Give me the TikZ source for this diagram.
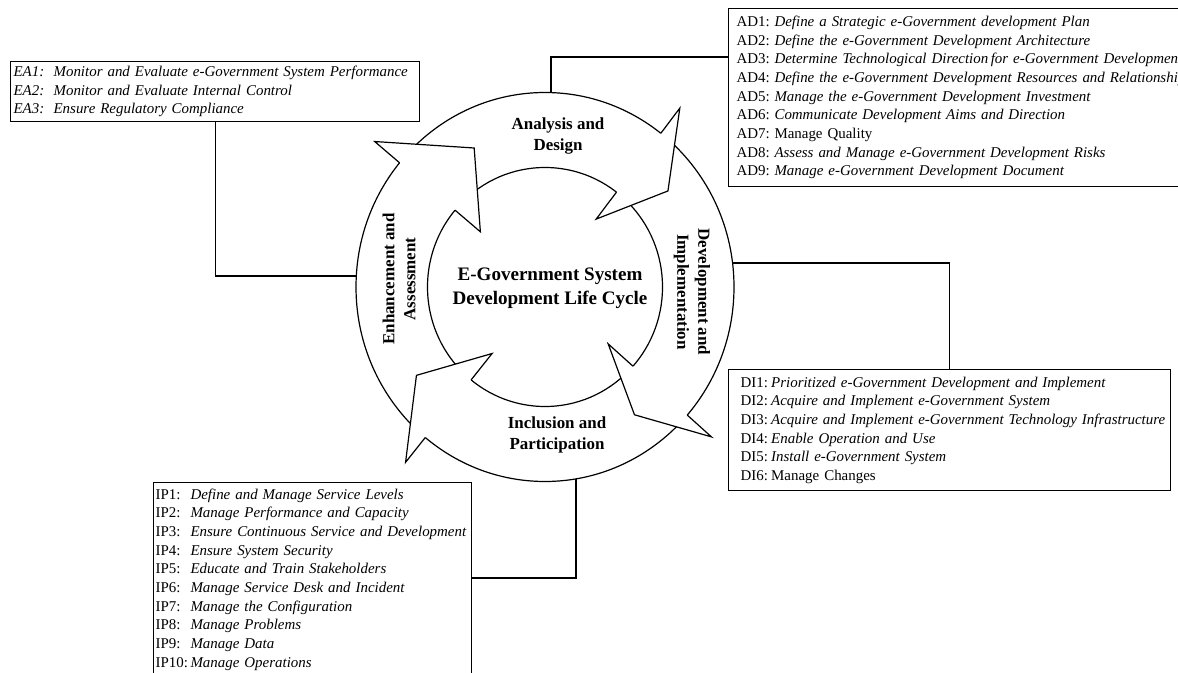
\documentclass[tikz,border=0pt]{standalone}
\usepackage{fontspec}
\setmainfont{Liberation Serif}

\tikzset{
  listbox/.style={draw, anchor=north west, align=left, inner ysep=0pt,
    font=\fontsize{11.2}{14}\selectfont},
  phase/.style={align=center, font=\bfseries\fontsize{12.7}{15.75}\selectfont},
  core/.style={align=center, font=\bfseries\fontsize{14.3}{18}\selectfont},
}
% one line of a list box: label of fixed width, then the text
\newcommand{\lst}[3]{\mbox{\makebox[#1][l]{#2}#3}}
% arrow head of one phase: base angle, tip angle (screen angles)
\newcommand{\phasehead}[2]{%
  \pgfmathsetmacro\ro{10*18.9*19.45/sqrt((19.45*cos(#1))^2+(18.9*sin(#1))^2)}%
  \pgfmathsetmacro\ri{10*11.75*11.95/sqrt((11.95*cos(#1))^2+(11.75*sin(#1))^2)}%
  \fill[white] ([shift={(#1:224)}]c) -- ([shift={(#2:156)}]c) -- ([shift={(#1:85)}]c) -- cycle;
  \draw ([shift={(#1:\ro)}]c) -- ([shift={(#1:224)}]c) -- ([shift={(#2:156)}]c)
    -- ([shift={(#1:85)}]c) -- ([shift={(#1:\ri)}]c);}

\begin{document}
\begin{tikzpicture}[x=0.75pt, y=-0.75pt, line width=0.9pt, line join=miter]
\useasboundingbox (0,0) rectangle (1178,673);
\clip (0,0) rectangle (1178,673);

% the ring
\coordinate (c) at (545,287);
\draw (c) ellipse (189 and 194.5);
\draw (c) ellipse (117.5 and 119.5);
\phasehead{-139.5}{-117}
\phasehead{-53}{-38}
\phasehead{42}{55}
\phasehead{128.5}{145.5}

\node[core] (core) at (550,288) {E-Government System\\Development Life Cycle};
\node[phase] (ad-label) at (558,136) {Analysis and\\Design};
\node[phase, rotate=-90] (di-label) at (692,292) {Development and\\Implementation};
\node[phase] (ip-label) at (557,435) {Inclusion and\\Participation};
\node[phase, rotate=90] (ea-label) at (399,279) {Enhancement and\\Assessment};

% list boxes
\node[listbox, inner xsep=2.25pt, text width=302.25pt, minimum height=45pt] (ea) at (10,61) {%
  \lst{2.68em}{\textit{EA1:}}{\textit{Monitor and Evaluate e-Government System Performance}}\\
  \lst{2.68em}{\textit{EA2:}}{\textit{Monitor and Evaluate Internal Control}}\\
  \lst{2.68em}{\textit{EA3:}}{\textit{Ensure Regulatory Compliance}}};

\node[listbox, inner xsep=6pt, text width=349.5pt, minimum height=133.5pt] (ad) at (728,8) {%
  \lst{2.54em}{AD1:}{\textit{Define a Strategic e-Government development Plan}}\\
  \lst{2.54em}{AD2:}{\textit{Define the e-Government Development Architecture}}\\
  \lst{2.54em}{AD3:}{\textit{Determine Technological Direction\,for e-Government Development}}\\
  \lst{2.54em}{AD4:}{\textit{Define the e-Government Development Resources and Relationship}}\\
  \lst{2.54em}{AD5:}{\textit{Manage the e-Government Development Investment}}\\
  \lst{2.54em}{AD6:}{\textit{Communicate Development Aims and Direction}}\\
  \lst{2.54em}{AD7:}{Manage Quality}\\
  \lst{2.54em}{AD8:}{\textit{Assess and Manage e-Government Development Risks}}\\
  \lst{2.54em}{AD9:}{\textit{Manage e-Government Development Document}}};

\node[listbox, inner xsep=9pt, text width=313.5pt, minimum height=90.75pt] (di) at (728,369) {%
  \lst{2.05em}{DI1:}{\textit{Prioritized e-Government Development and Implement}}\\
  \lst{2.05em}{DI2:}{\textit{Acquire and Implement e-Government System}}\\
  \lst{2.05em}{DI3:}{\textit{Acquire and Implement e-Government Technology Infrastructure}}\\
  \lst{2.05em}{DI4:}{\textit{Enable Operation and Use}}\\
  \lst{2.05em}{DI5:}{\textit{Install e-Government System}}\\
  \lst{2.05em}{DI6:}{Manage Changes}};

\node[listbox, inner xsep=1.5pt, text width=235.5pt, minimum height=145.5pt] (ip) at (153,482) {%
  \lst{2.34em}{IP1:}{\textit{Define and Manage Service Levels}}\\
  \lst{2.34em}{IP2:}{\textit{Manage Performance and Capacity}}\\
  \lst{2.34em}{IP3:}{\textit{Ensure Continuous Service and Development}}\\
  \lst{2.34em}{IP4:}{\textit{Ensure System Security}}\\
  \lst{2.34em}{IP5:}{\textit{Educate and Train Stakeholders}}\\
  \lst{2.34em}{IP6:}{\textit{Manage Service Desk and Incident}}\\
  \lst{2.34em}{IP7:}{\textit{Manage the Configuration}}\\
  \lst{2.34em}{IP8:}{\textit{Manage Problems}}\\
  \lst{2.34em}{IP9:}{\textit{Manage Data}}\\
  \lst{2.34em}{IP10:}{\textit{Manage Operations}}};

% connectors to the ring
\coordinate (ea-end) at (356.3,276);
\coordinate (ad-end) at (551,92.6);
\coordinate (di-end) at (732.6,263);
\coordinate (ip-end) at (576,478.9);
\draw (ea.south) |- (ea-end);
\draw (ad.west |- 0,57) -| (ad-end);
\draw (di.north) |- (di-end);
\draw (ip.east |- 0,578) -| (ip-end);
\end{tikzpicture}
\end{document}
